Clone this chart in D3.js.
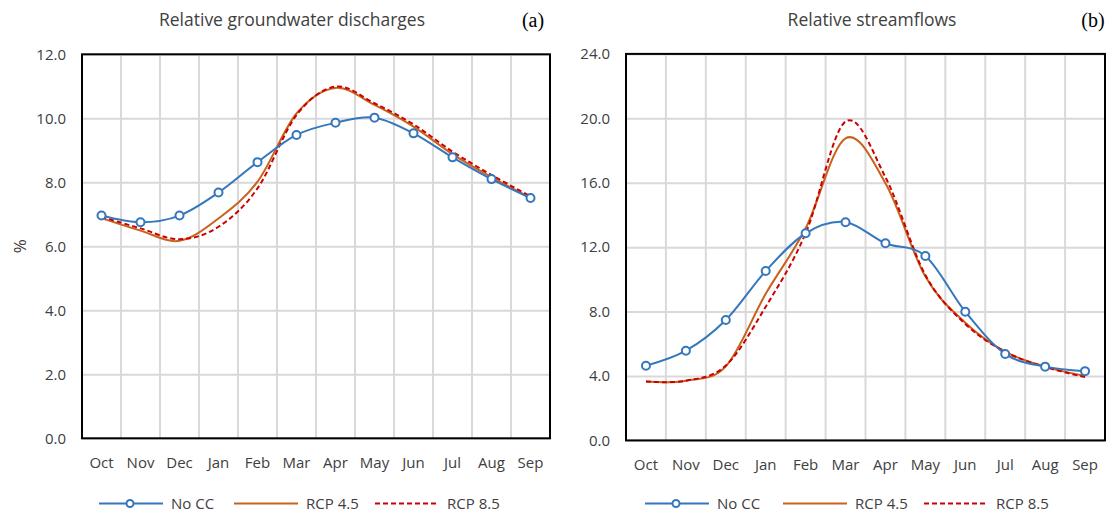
<!DOCTYPE html>
<html>
<head>
<meta charset="utf-8">
<script src="https://cdn.jsdelivr.net/npm/d3@7"></script>
<style>
  body { margin: 0; background: #fff; }
  svg text { font-family: "Open Sans", sans-serif; fill: #404040; }
</style>
</head>
<body>
<script>
///////////////////   Data   /////////////////

var months = ["Oct","Nov","Dec","Jan","Feb","Mar","Apr","May","Jun","Jul","Aug","Sep"];
var seriesNames = ["No CC", "RCP 4.5", "RCP 8.5"];

// (a) relative groundwater discharges, %
var gwNoCC  = [6.96, 6.75, 6.96, 7.68, 8.63, 9.48, 9.86, 10.02, 9.53, 8.78, 8.10, 7.51];
var gwRcp45 = [6.88, 6.49, 6.17, 6.87, 8.02, 10.15, 10.95, 10.42, 9.74, 8.88, 8.16, 7.52];
var gwRcp85 = [6.92, 6.56, 6.22, 6.61, 7.81, 10.10, 10.99, 10.47, 9.81, 8.96, 8.23, 7.56];
var gwTicks = [0, 2, 4, 6, 8, 10, 12];

// (b) relative streamflows, %
var sfNoCC  = [4.64, 5.57, 7.48, 10.52, 12.86, 13.55, 12.24, 11.45, 7.99, 5.37, 4.58, 4.30];
var sfRcp45 = [3.65, 3.71, 4.60, 9.10, 13.17, 18.76, 15.97, 10.17, 7.31, 5.51, 4.58, 4.00];
var sfRcp85 = [3.65, 3.71, 4.65, 8.30, 12.86, 19.80, 16.34, 10.27, 7.23, 5.50, 4.56, 3.93];
var sfTicks = [0, 4, 8, 12, 16, 20, 24];

///////////////////   Style   /////////////////

var colors = { nocc: "#3577bd", rcp45: "#c8621c", rcp85: "#cc0000", grid: "#d9d9d9" };

var svg = d3.select("body").append("svg")
    .attr("width", 1109)
    .attr("height", 514);

drawPanel({
  left: 82, right: 550, top: 54.3, bottom: 438.3,
  ticks: gwTicks, series: [gwNoCC, gwRcp45, gwRcp85],
  title: "Relative groundwater discharges", titleX: 292,
  tag: "(a)", tagX: 533, ylabel: "%",
  legendX: [99, 234, 375]
});

drawPanel({
  left: 626, right: 1105, top: 53.9, bottom: 440.4,
  ticks: sfTicks, series: [sfNoCC, sfRcp45, sfRcp85],
  title: "Relative streamflows", titleX: 872,
  tag: "(b)", tagX: 1093, ylabel: null,
  legendX: [645, 783, 924]
});

////////////////   Panel drawing   //////////////

function drawPanel(p) {
  var g = svg.append("g");

  var x = d3.scaleBand().domain(months).range([p.left, p.right]).padding(0);
  var y = d3.scaleLinear().domain(d3.extent(p.ticks)).range([p.bottom, p.top]);

  // horizontal gridlines
  g.append("g")
    .attr("transform", "translate(" + p.left + ",0)")
    .call(d3.axisLeft(y).tickValues(p.ticks).tickSize(-(p.right - p.left)).tickFormat(""))
    .call(function(a) {
      a.select(".domain").remove();
      a.selectAll("line").attr("stroke", colors.grid).attr("stroke-width", 2);
    });

  // vertical gridlines at band boundaries
  g.append("g").selectAll("line")
    .data(months.slice(1))
    .enter().append("line")
    .attr("x1", function(d) { return x(d); })
    .attr("x2", function(d) { return x(d); })
    .attr("y1", p.top)
    .attr("y2", p.bottom)
    .attr("stroke", colors.grid)
    .attr("stroke-width", 2);

  // y tick labels
  g.append("g").selectAll("text")
    .data(p.ticks)
    .enter().append("text")
    .attr("x", p.left - 16)
    .attr("y", function(d) { return y(d); })
    .attr("dy", "0.35em")
    .attr("text-anchor", "end")
    .style("font-size", "15px")
    .text(function(d) { return d.toFixed(1); });

  // month labels
  g.append("g").selectAll("text")
    .data(months)
    .enter().append("text")
    .attr("x", function(d) { return x(d) + x.bandwidth() / 2; })
    .attr("y", p.bottom + 24)
    .attr("dy", "0.35em")
    .attr("text-anchor", "middle")
    .style("font-size", "15px")
    .text(function(d) { return d; });

  // frame
  g.append("rect")
    .attr("x", p.left)
    .attr("y", p.top)
    .attr("width", p.right - p.left)
    .attr("height", p.bottom - p.top)
    .attr("fill", "none")
    .attr("stroke", "#000")
    .attr("stroke-width", 2);

  var line = d3.line()
    .x(function(d, i) { return x(months[i]) + x.bandwidth() / 2; })
    .y(function(d) { return y(d); })
    .curve(d3.curveCatmullRom.alpha(0));

  // RCP 4.5
  g.append("path")
    .datum(p.series[1])
    .attr("d", line)
    .attr("fill", "none")
    .attr("stroke", colors.rcp45)
    .attr("stroke-width", 2);

  // RCP 8.5
  g.append("path")
    .datum(p.series[2])
    .attr("d", line)
    .attr("fill", "none")
    .attr("stroke", colors.rcp85)
    .attr("stroke-width", 2)
    .attr("stroke-dasharray", "5,3");

  // No CC with markers
  g.append("path")
    .datum(p.series[0])
    .attr("d", line)
    .attr("fill", "none")
    .attr("stroke", colors.nocc)
    .attr("stroke-width", 2);

  g.append("g").selectAll("circle")
    .data(p.series[0])
    .enter().append("circle")
    .attr("cx", function(d, i) { return x(months[i]) + x.bandwidth() / 2; })
    .attr("cy", function(d) { return y(d); })
    .attr("r", 4)
    .attr("fill", "#fff")
    .attr("stroke", colors.nocc)
    .attr("stroke-width", 2);

  // title and panel tag
  g.append("text")
    .attr("x", p.titleX)
    .attr("y", 20)
    .attr("dy", "0.35em")
    .attr("text-anchor", "middle")
    .style("font-size", "17.5px")
    .text(p.title);

  g.append("text")
    .attr("x", p.tagX)
    .attr("y", 20)
    .attr("dy", "0.35em")
    .attr("text-anchor", "middle")
    .style("font-family", "'Liberation Serif', serif")
    .style("font-size", "20px")
    .style("fill", "#000")
    .text(p.tag);

  if (p.ylabel) {
    g.append("text")
      .attr("transform", "translate(20," + ((p.top + p.bottom) / 2) + ") rotate(-90)")
      .attr("text-anchor", "middle")
      .attr("dy", "0.35em")
      .style("font-size", "17px")
      .text(p.ylabel);
  }

  // legend
  var ly = 503.5;
  var styles = [
    { color: colors.nocc, dash: null, marker: true },
    { color: colors.rcp45, dash: null, marker: false },
    { color: colors.rcp85, dash: "5,3", marker: false }
  ];
  seriesNames.forEach(function(name, i) {
    var lx = p.legendX[i];
    g.append("line")
      .attr("x1", lx).attr("x2", lx + 64)
      .attr("y1", ly).attr("y2", ly)
      .attr("stroke", styles[i].color)
      .attr("stroke-width", 2)
      .attr("stroke-dasharray", styles[i].dash);
    if (styles[i].marker) {
      g.append("circle")
        .attr("cx", lx + 31).attr("cy", ly).attr("r", 3.5)
        .attr("fill", "#fff")
        .attr("stroke", styles[i].color)
        .attr("stroke-width", 2);
    }
    g.append("text")
      .attr("x", lx + 72)
      .attr("y", ly)
      .attr("dy", "0.35em")
      .style("font-size", "15px")
      .text(name);
  });
}
</script>
</body>
</html>
